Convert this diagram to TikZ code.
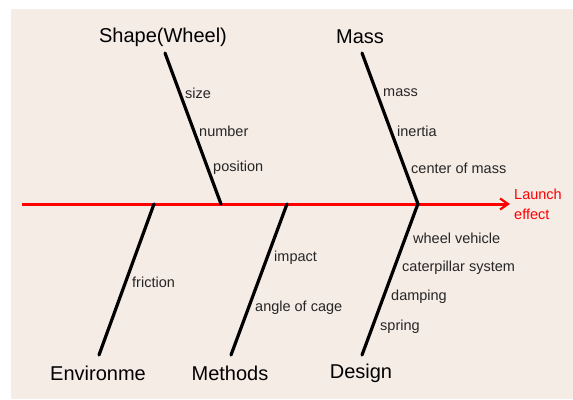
\documentclass[tikz,border=0pt]{standalone}
\usepackage{fontspec}
\setmainfont{Liberation Sans}
\usetikzlibrary{arrows.meta}
\definecolor{bgbeige}{HTML}{F5ECE6}
\definecolor{spinered}{HTML}{FF0000}
\tikzset{
  bone/.style={line width=3.2pt, black, line cap=round, line join=round},
  spine/.style={line width=3pt, spinered, -{Straight Barb[length=8pt,width=11pt,line width=2.2pt]}},
  cat/.style={font=\fontsize{20}{22}\selectfont, inner sep=0pt, anchor=center},
  cause/.style={font=\fontsize{14.5}{16}\selectfont, inner sep=0pt, anchor=west, text=black!85},
  effect/.style={font=\fontsize{14.5}{20}\selectfont, inner sep=0pt, anchor=west, align=left, text=spinered}
}
\begin{document}
\begin{tikzpicture}[x=1pt,y=-1pt]
\useasboundingbox (0,0) rectangle (573,399);
\fill[white] (0,0) rectangle (573,399);
\fill[bgbeige] (11,9) rectangle (573,399);

% spine
\coordinate (tail) at (22,204);
\coordinate (head) at (510,204);
\draw[spine] (tail) -- (head);
\node[effect] (eff) at (514,204) {Launch\\effect};

% junctions on the spine
\coordinate (jS) at (221,204);
\coordinate (jM) at (418,204);
\coordinate (jE) at (154,204);
\coordinate (jT) at (287,204);
\coordinate (jD) at (418,204);

% bone ends
\coordinate (eS) at (165,53);
\coordinate (eM) at (362,53);
\coordinate (eE) at (99,355);
\coordinate (eT) at (231,355);
\coordinate (eD) at (362,355);

\draw[bone] (eS) -- (jS);
\draw[bone] (eM) -- (jM);
\draw[bone] (eE) -- (jE);
\draw[bone] (eT) -- (jT);
\draw[bone] (jD) -- (416,209) -- (eD);

% category labels
\node[cat] (shape) at (163,37) {Shape(Wheel)};
\node[cat] (mass) at (360,37) {Mass};
\node[cat] (env) at (98,373) {Environme};
\node[cat] (meth) at (230,373) {Methods};
\node[cat] (des) at (361,373) {Design};

% cause labels
\node[cause] (c1) at (185,93) {size};
\node[cause] (c2) at (199,131) {number};
\node[cause] (c3) at (213,168) {position};
\node[cause] (c4) at (383,93) {mass};
\node[cause] (c5) at (397,131) {inertia};
\node[cause] (c6) at (411,168) {center of mass};
\node[cause] (c7) at (132,282) {friction};
\node[cause] (c8) at (274,258) {impact};
\node[cause] (c9) at (255,308) {angle of cage};
\node[cause] (c10) at (413,238) {wheel vehicle};
\node[cause] (c11) at (402,268) {caterpillar system};
\node[cause] (c12) at (391,297) {damping};
\node[cause] (c13) at (380,327) {spring};
\end{tikzpicture}
\end{document}
